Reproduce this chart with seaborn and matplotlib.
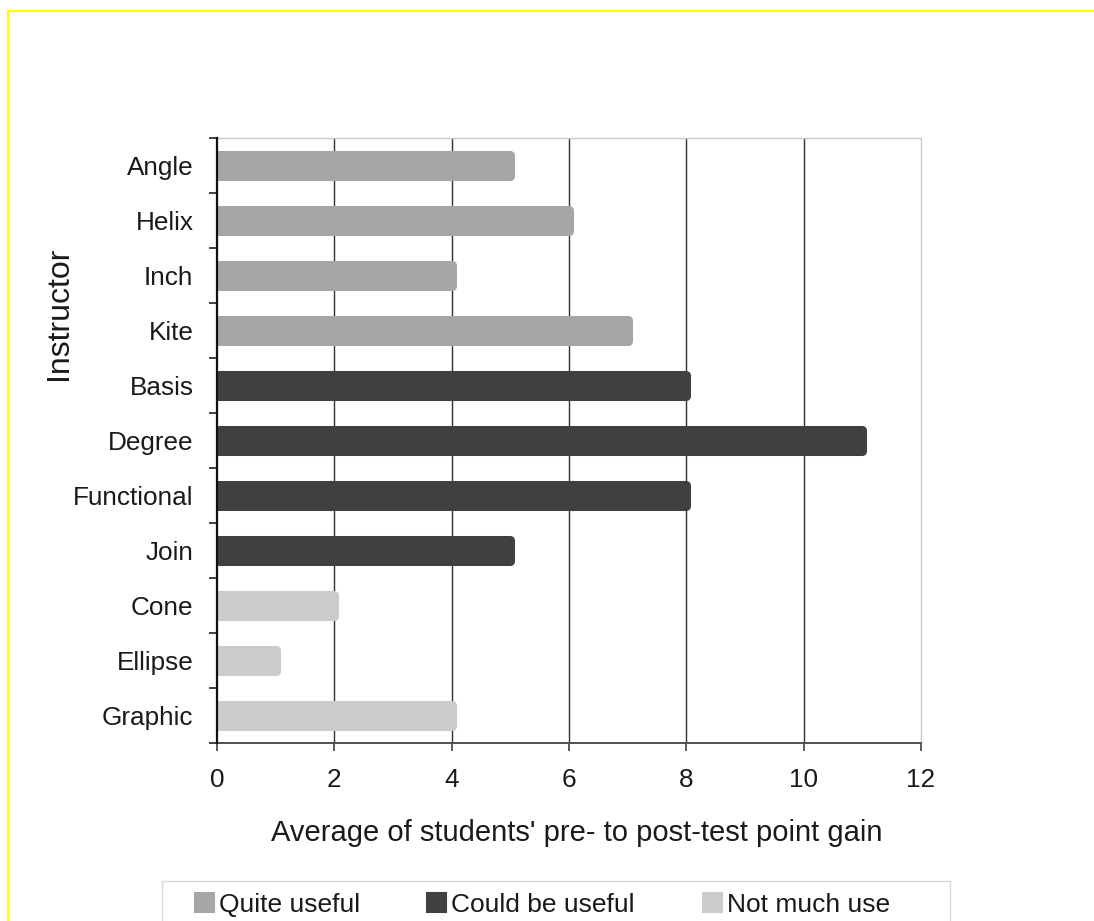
import matplotlib
matplotlib.use("Agg")
import matplotlib.pyplot as plt
import seaborn as sns
import pandas as pd
from matplotlib.patches import Patch, Rectangle

instructors = ["Angle", "Helix", "Inch", "Kite", "Basis", "Degree",
               "Functional", "Join", "Cone", "Ellipse", "Graphic"]
gains = [5, 6, 4, 7, 8, 11, 8, 5, 2, 1, 4]
groups = ["Quite useful"] * 4 + ["Could be useful"] * 4 + ["Not much use"] * 3
group_names = ["Quite useful", "Could be useful", "Not much use"]
group_colors = ["#A6A6A6", "#404040", "#CBCBCB"]
x_ticks = [0, 2, 4, 6, 8, 10, 12]

df = pd.DataFrame({"Instructor": instructors, "Gain": gains, "Group": groups})

sns.set_theme(style="white")
plt.rcParams["font.family"] = ["Liberation Sans", "DejaVu Sans"]

W, H = 1094, 921
fig = plt.figure(figsize=(W / 100, H / 100), dpi=100)
ax = fig.add_axes([217 / W, 1 - 743 / H, (921 - 217) / W, (743 - 138) / H])

palette = dict(zip(group_names, group_colors))
sns.barplot(data=df, y="Instructor", x="Gain", hue="Group", order=instructors,
            hue_order=group_names, palette=palette, dodge=False, width=0.38,
            orient="h", ax=ax, legend=False, saturation=1,
            edgecolor="none", linewidth=0)
# rounded, slightly padded bar outline in the bar's own colour
for p in ax.patches:
    p.set_edgecolor(p.get_facecolor())
    p.set_linewidth(6.5)
    p.set_joinstyle("round")

ax.set_xlim(0, 12)
ax.set_ylim(len(instructors) - 0.5, -0.5)
ax.set_xticks(x_ticks)
ax.set_xticklabels([str(t) for t in x_ticks])
ax.grid(False)
for t in x_ticks[1:-1]:
    ax.axvline(t, color="#303030", lw=1.0, zorder=0)
ax.set_axisbelow(True)

ax.set_yticks(range(len(instructors)))
ax.set_yticklabels(instructors)
ax.set_yticks([i - 0.5 for i in range(len(instructors) + 1)], minor=True)
ax.tick_params(axis="y", which="major", length=0, pad=17, labelsize=18.8, colors="#1a1a1a")
ax.tick_params(axis="y", which="minor", length=6, width=1.2, direction="out", color="#202020", left=True)
ax.tick_params(axis="x", which="major", length=6, width=1.2, direction="out", color="#404040",
               pad=12, labelsize=18.8, labelcolor="#1a1a1a", bottom=True)

ax.spines["left"].set_color("#101010")
ax.spines["left"].set_linewidth(1.6)
ax.spines["left"].set_zorder(5)
ax.spines["bottom"].set_color("#505050")
ax.spines["bottom"].set_linewidth(1.4)
ax.spines["top"].set_color("#C8C8C8")
ax.spines["top"].set_linewidth(1.0)
ax.spines["right"].set_color("#C8C8C8")
ax.spines["right"].set_linewidth(1.0)

ax.set_xlabel("Average of students' pre- to post-test point gain", fontsize=21, color="#1a1a1a")
ax.xaxis.set_label_coords(0.511, -0.125)
ax.set_ylabel("Instructor", fontsize=23, color="#1a1a1a")
ax.yaxis.set_label_coords(-0.203, 0.710)

# yellow outer frame
fig.patches.append(Rectangle((8 / W, -0.05), 1.2, 1 - 11 / H + 0.05, transform=fig.transFigure,
                             fill=False, edgecolor="#FFFF00", lw=1.6, zorder=0))
# legend frame
fig.patches.append(Rectangle((162 / W, -0.05), (950 - 162) / W, 1 - 881 / H + 0.05,
                             transform=fig.transFigure, fill=False, edgecolor="#D8D8D8",
                             lw=1.0, zorder=1))
leg_x = [195, 427, 703]
for name, col, lx in zip(group_names, group_colors, leg_x):
    lg = fig.legend(handles=[Patch(facecolor=col, edgecolor=col, linewidth=1.5,
                                   joinstyle="round", label=name)],
                    loc="center left", bbox_to_anchor=(lx / W, 1 - 905 / H),
                    frameon=False, fontsize=19, handlelength=0.72, handleheight=0.72,
                    handletextpad=0.2, borderpad=0, borderaxespad=0)
    for t in lg.get_texts():
        t.set_color("#1a1a1a")

fig.savefig("out.png", dpi=100)
